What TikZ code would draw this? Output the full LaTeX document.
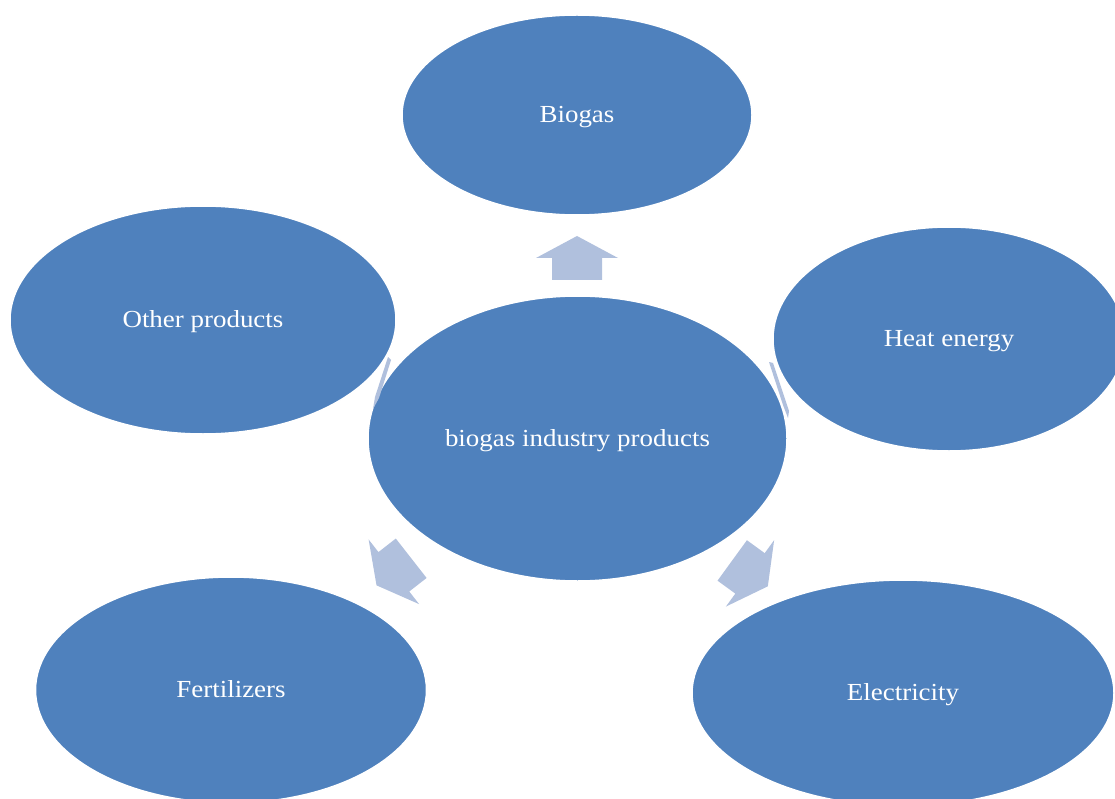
\documentclass[tikz,border=0pt]{standalone}
\usepackage{fontspec}
\setmainfont{Liberation Serif}[FakeStretch=1.1]
\usetikzlibrary{shapes.geometric,calc}
\definecolor{ovalblue}{HTML}{4F81BD}
\definecolor{arrowblue}{HTML}{B0C0DD}
\tikzset{
  oval/.style={ellipse, fill=ovalblue, draw=white, line width=1.5pt, inner sep=0pt,
    text=white, text height=20pt, text depth=5pt, font=\fontsize{24.5}{29}\selectfont},
  arrowpart/.style={fill=arrowblue, draw=none},
  blockarrow/.pic={\fill[arrowblue] (-22,-25) -- (0,-25) -- (0,-41) -- (22,0) -- (0,41) -- (0,25) -- (-22,25) -- cycle;}
}
\begin{document}
\begin{tikzpicture}[x=1pt,y=1pt]
\useasboundingbox (0,0) rectangle (1115,-799);
\clip (0,0) rectangle (1115,-799);
\fill[white] (0,0) rectangle (1115,-799);

\node[oval, minimum width=350pt, minimum height=200pt] (biogas) at (577,-115) {Biogas};
\node[oval, minimum width=386pt, minimum height=228pt] (other) at (203,-320) {Other products};
\node[oval, minimum width=352pt, minimum height=224pt] (heat) at (949,-339) {Heat energy};
\node[oval, minimum width=422pt, minimum height=226pt] (elec) at (903,-693) {Electricity};
\node[oval, minimum width=391pt, minimum height=226pt] (fert) at (231,-690) {Fertilizers};
\node[oval, minimum width=419pt, minimum height=285pt] (center) at (577.5,-438.5) {biogas industry products};

% block arrows from the centre towards the products
\pic[rotate=90] (upA) at (577,-258) {blockarrow};
\pic[rotate=218] (fertA) at ($(center)!0.53!(fert)$) {blockarrow};
\pic[rotate=-36] (elecA) at ($(center)!0.53!(elec)$) {blockarrow};
% arrows towards Other products and Heat energy, almost hidden between the ovals
\path[arrowpart] (388,-357) -- (391,-360) -- (379,-398) -- (373,-409) -- (375,-397) -- cycle;
\path[arrowpart] (769,-362) -- (773,-363) -- (789,-411) -- (788,-418) -- (783,-405) -- cycle;
\end{tikzpicture}
\end{document}
